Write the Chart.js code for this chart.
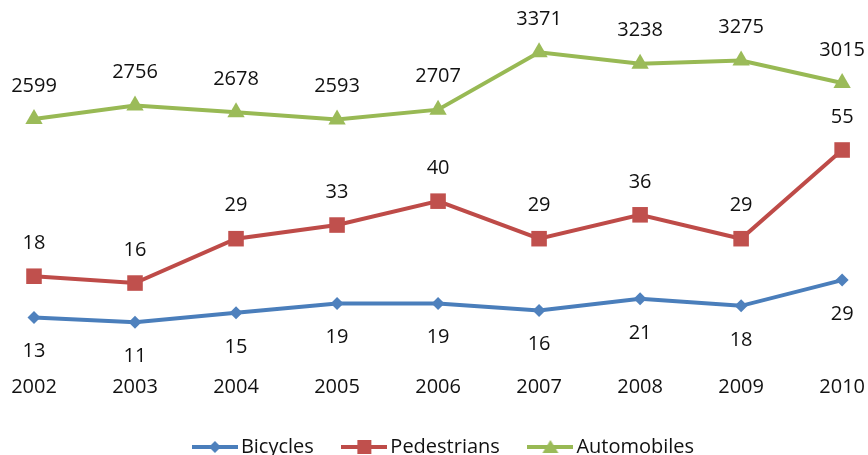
<!DOCTYPE html>
<html><head><meta charset="utf-8">
<script src="https://cdn.jsdelivr.net/npm/chart.js@4/dist/chart.umd.min.js"></script>
<style>html,body{margin:0;padding:0;background:#fff}#wrap{width:868px;height:455px}</style>
</head><body><div id="wrap"><canvas id="c" width="868" height="455"></canvas></div>
<script>
const years = ['2002','2003','2004','2005','2006','2007','2008','2009','2010'];
const bicycles = [13, 11, 15, 19, 19, 16, 21, 18, 29];
const pedestrians = [18, 16, 29, 33, 40, 29, 36, 29, 55];
const automobiles = [2599, 2756, 2678, 2593, 2707, 3371, 3238, 3275, 3015];
const seriesNames = ['Bicycles', 'Pedestrians', 'Automobiles'];

const FONT = '"Open Sans", "Liberation Sans", sans-serif';
const colors = [
  {line:'#4A7EBB', fill:'#4F81BD', style:'rectRot', r:6.5},
  {line:'#BE4B48', fill:'#C0504D', style:'rect', r:11},
  {line:'#98B954', fill:'#9BBB59', style:'triangle', r:10}
];

function legendIcon(i){
  const c = document.createElement('canvas');
  c.width = 46; c.height = 18;
  const g = c.getContext('2d');
  g.strokeStyle = colors[i].line; g.lineWidth = 4;
  g.beginPath(); g.moveTo(0,9); g.lineTo(46,9); g.stroke();
  g.fillStyle = colors[i].fill;
  g.beginPath();
  if (i===0){ g.moveTo(23,3); g.lineTo(29,9); g.lineTo(23,15); g.lineTo(17,9); g.closePath(); }
  else if (i===1){ g.rect(16,2,14,14); }
  else { g.moveTo(23,2); g.lineTo(31,15); g.lineTo(15,15); g.closePath(); }
  g.fill();
  return c;
}

const valueLabels = {
  id:'valueLabels',
  afterDatasetsDraw(chart){
    const ctx = chart.ctx;
    ctx.save();
    ctx.font = '20px ' + FONT;
    ctx.fillStyle = '#111';
    ctx.textAlign = 'center';
    ctx.textBaseline = 'middle';
    chart.data.datasets.forEach((ds, di) => {
      const meta = chart.getDatasetMeta(di);
      meta.data.forEach((pt, j) => {
        const off = di === 0 ? 34 : -33;
        ctx.fillText(String(ds.data[j]), pt.x, pt.y + off);
      });
    });
    ctx.restore();
  }
};

const seriesData = [bicycles, pedestrians, automobiles];
const axisIds = ['yB','yP','yA'];

new Chart(document.getElementById('c'), {
  type:'line',
  data:{
    labels: years,
    datasets: seriesData.map((d,i)=>({
      label: seriesNames[i],
      data: d,
      yAxisID: axisIds[i],
      borderColor: colors[i].line,
      backgroundColor: colors[i].fill,
      pointBackgroundColor: colors[i].fill,
      pointBorderColor: colors[i].fill,
      pointBorderWidth: 0,
      pointStyle: colors[i].style,
      pointRadius: colors[i].r,
      borderWidth: 4,
      tension: 0,
      clip: false
    }))
  },
  options:{
    responsive:false,
    animation:false,
    layout:{padding:{left:34, right:9, top:20, bottom:-12}},
    plugins:{
      legend:{
        position:'bottom',
        labels:{
          usePointStyle:true,
          pointStyleWidth:32,
          padding:34.5,
          color:'#111',
          font:{family:FONT, size:20},
          generateLabels(chart){
            return chart.data.datasets.map((ds,i)=>({
              text: ds.label,
              pointStyle: legendIcon(i),
              fillStyle: colors[i].fill,
              strokeStyle: colors[i].line,
              lineWidth: 0,
              hidden: false,
              datasetIndex: i,
              fontColor:'#111'
            }));
          }
        }
      },
      tooltip:{enabled:false}
    },
    scales:{
      x:{
        offset:false,
        grid:{display:false, drawTicks:false},
        border:{display:false},
        ticks:{color:'#111', font:{family:FONT, size:20}, padding:3, maxRotation:0, autoSkip:false}
      },
      yB:{display:false, min:-10.55, max:140.37},
      yP:{display:false, min:-10.22, max:93.1},
      yA:{display:false, min:-336.8, max:3744.9}
    }
  },
  plugins:[valueLabels]
});
</script>
</body></html>
